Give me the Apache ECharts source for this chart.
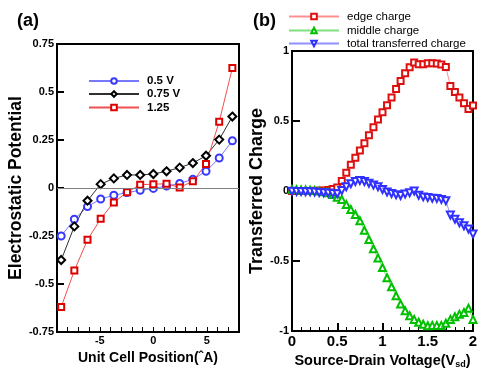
<!DOCTYPE html>
<html><head><meta charset="utf-8">
<script src="https://cdn.jsdelivr.net/npm/echarts@6/dist/echarts.min.js"></script>
<style>html,body{margin:0;padding:0;background:#fff}#c{width:491px;height:379px}</style>
</head><body><div id="c"></div>
<script>
// Panel (a): electrostatic potential vs unit cell position
const positions = [-8.61, -7.38, -6.15, -4.92, -3.69, -2.46, -1.23, 0, 1.23, 2.46, 3.69, 4.92, 6.15, 7.38];
const pot05 = [-0.25, -0.163, -0.097, -0.057, -0.038, -0.024, -0.012, -0.002, 0.01, 0.024, 0.045, 0.087, 0.156, 0.246];
const pot075 = [-0.375, -0.2, -0.066, 0.02, 0.05, 0.068, 0.068, 0.073, 0.087, 0.106, 0.13, 0.168, 0.252, 0.372];
const pot125 = [-0.62, -0.43, -0.27, -0.16, -0.075, -0.022, 0.017, 0.02, 0.022, 0.003, 0.035, 0.125, 0.345, 0.625];
const namesA = ['0.5 V', '0.75 V', '1.25'];
const xTickLabelsA = [-5, 0, 5];
const yTicksA = [-0.75, -0.5, -0.25, 0, 0.25, 0.5, 0.75];

// Panel (b): transferred charge vs source-drain voltage
const voltage = [0, 0.05, 0.1, 0.15, 0.2, 0.25, 0.3, 0.35, 0.4, 0.45, 0.5,
  0.55, 0.6, 0.65, 0.7, 0.75, 0.8, 0.85, 0.9, 0.95, 1.0,
  1.05, 1.1, 1.15, 1.2, 1.25, 1.3, 1.35, 1.4, 1.45, 1.5,
  1.55, 1.6, 1.65, 1.7, 1.75, 1.8, 1.85, 1.9, 1.95, 2.0];
const edgeCharge = [0, 0, 0, 0, 0, 0.001, 0.002, 0.004, 0.008, 0.015, 0.025,
  0.072, 0.13, 0.187, 0.237, 0.29, 0.341, 0.398, 0.455, 0.51, 0.563,
  0.613, 0.667, 0.729, 0.786, 0.841, 0.884, 0.917, 0.905, 0.905, 0.912,
  0.912, 0.91, 0.903, 0.886, 0.75, 0.708, 0.667, 0.627, 0.586, 0.61];
const middleCharge = [0.01, 0.009, 0.008, 0.007, 0.005, 0.003, 0.0, -0.005, -0.012, -0.025, -0.045,
  -0.06, -0.096, -0.132, -0.168, -0.213, -0.28, -0.346, -0.413, -0.479, -0.546,
  -0.62, -0.684, -0.748, -0.807, -0.855, -0.891, -0.917, -0.938, -0.952, -0.962,
  -0.96, -0.96, -0.96, -0.945, -0.917, -0.898, -0.881, -0.867, -0.838, -0.917];
const totalCharge = [-0.002, -0.003, -0.004, -0.005, -0.006, -0.008, -0.01, -0.012, -0.014, -0.017, -0.02,
  0.003, 0.03, 0.052, 0.068, 0.075, 0.067, 0.055, 0.042, 0.03, 0.011,
  -0.008, -0.018, -0.027, -0.032, -0.022, -0.012, 0.0, -0.03, -0.042, -0.046,
  -0.051, -0.053, -0.06, -0.07, -0.172, -0.201, -0.227, -0.248, -0.272, -0.308];
const namesB = ['edge charge', 'middle charge', 'total transferred charge'];

const FONT = "'Liberation Sans', Arial, sans-serif";
const zip = (xs, ys) => xs.map((x, i) => [x, ys[i]]);
const fmtA = v => (xTickLabelsA.indexOf(Math.round(v)) >= 0 && Math.abs(v - Math.round(v)) < 1e-6) ? String(Math.round(v)) : '';

const chart = echarts.init(document.getElementById('c'), null, {renderer: 'canvas'});

function legendItem(name, left, top, bold) {
  return {
    data: [name], left: left, top: top, orient: 'vertical',
    itemWidth: 50, itemHeight: 7, itemGap: 0, padding: 0,
    textStyle: {fontFamily: FONT, fontSize: 11.5, fontWeight: bold ? 'bold' : 'normal', color: '#000', padding: [0, 0, 0, 3]},
    selectedMode: false
  };
}

const option = {
  animation: false,
  backgroundColor: '#fff',
  textStyle: {fontFamily: FONT},
  graphic: [
    {type: 'text', left: 17, top: 12, style: {text: '(a)', font: 'bold 18px ' + FONT, fill: '#000'}},
    {type: 'text', left: 253, top: 12, style: {text: '(b)', font: 'bold 18px ' + FONT, fill: '#000'}}
  ],
  legend: [
    legendItem(namesA[0], 88, 75, true),
    legendItem(namesA[1], 88, 88, true),
    legendItem(namesA[2], 88, 101.5, true),
    legendItem(namesB[0], 288, 10.5, false),
    legendItem(namesB[1], 288, 24.5, false),
    legendItem(namesB[2], 288, 37.5, false)
  ],
  grid: [
    {left: 57, top: 44, width: 182, height: 288, show: true, borderColor: '#000', borderWidth: 2, backgroundColor: 'transparent'},
    {left: 292, top: 51, width: 181, height: 280, show: true, borderColor: '#000', borderWidth: 2, backgroundColor: 'transparent'}
  ],
  xAxis: [
    {type: 'value', gridIndex: 0, min: -9, max: 8, interval: 1, position: 'bottom',
      name: 'Unit Cell Position(\u02C6A)', nameLocation: 'middle', nameGap: 16,
      nameTextStyle: {fontFamily: FONT, fontSize: 14, fontWeight: 'bold', color: '#000'},
      axisLine: {onZero: false, lineStyle: {color: '#000', width: 2}},
      axisTick: {inside: true, length: 5, lineStyle: {color: '#000', width: 1}},
      axisLabel: {formatter: fmtA, fontFamily: FONT, fontSize: 11, fontWeight: 'bold', color: '#000', margin: 3, showMinLabel: true, showMaxLabel: true},
      splitLine: {show: false}},
    {type: 'value', gridIndex: 1, min: 0, max: 2, interval: 0.5, position: 'bottom',
      name: '{n|Source-Drain Voltage(V}{s|sd}{n|)}', nameLocation: 'middle', nameGap: 19,
      nameTextStyle: {rich: {
        n: {fontFamily: FONT, fontSize: 14.5, fontWeight: 'bold', color: '#000'},
        s: {fontFamily: FONT, fontSize: 9, fontWeight: 'bold', color: '#000', verticalAlign: 'bottom', padding: [6, 0, 0, 0]}}},
      axisLine: {onZero: false, lineStyle: {color: '#000', width: 2}},
      axisTick: {inside: true, length: 8, lineStyle: {color: '#000', width: 2}},
      axisLabel: {fontFamily: FONT, fontSize: 15, fontWeight: 'bold', color: '#000', margin: 3},
      splitLine: {show: false}},
    {type: 'value', gridIndex: 1, min: 0, max: 2, interval: 0.1, position: 'bottom', offset: 0,
      axisLine: {show: false, onZero: false},
      axisTick: {inside: true, length: 4, lineStyle: {color: '#000', width: 1}},
      axisLabel: {show: false}, splitLine: {show: false}}
  ],
  yAxis: [
    {type: 'value', gridIndex: 0, min: -0.75, max: 0.75, interval: 0.25,
      name: 'Electrostatic Potential', nameLocation: 'middle', nameGap: 31, nameRotate: 90,
      nameTextStyle: {fontFamily: FONT, fontSize: 17.5, fontWeight: 'bold', color: '#000'},
      axisLine: {onZero: false, lineStyle: {color: '#000', width: 2}},
      axisTick: {inside: true, length: 7, lineStyle: {color: '#000', width: 2}},
      axisLabel: {fontFamily: FONT, fontSize: 11, fontWeight: 'bold', color: '#000', margin: 3},
      splitLine: {show: false}},
    {type: 'value', gridIndex: 1, min: -1, max: 1, interval: 0.5,
      name: 'Transferred Charge', nameLocation: 'middle', nameGap: 21, nameRotate: 90,
      nameTextStyle: {fontFamily: FONT, fontSize: 18, fontWeight: 'bold', color: '#000'},
      axisLine: {onZero: false, lineStyle: {color: '#000', width: 2}},
      axisTick: {inside: true, length: 8, lineStyle: {color: '#000', width: 2}},
      axisLabel: {fontFamily: FONT, fontSize: 11, fontWeight: 'bold', color: '#000', margin: 3},
      splitLine: {show: false}}
  ],
  series: [
    {name: namesA[0], type: 'line', xAxisIndex: 0, yAxisIndex: 0, data: zip(positions, pot05),
      symbol: 'emptyCircle', symbolSize: 7,
      lineStyle: {color: '#7878ff', width: 1}, itemStyle: {color: '#3838ff', borderWidth: 2},
      markLine: {silent: true, symbol: 'none', label: {show: false},
        lineStyle: {color: '#808080', width: 1, type: 'solid'}, data: [{yAxis: 0}]}},
    {name: namesA[1], type: 'line', xAxisIndex: 0, yAxisIndex: 0, data: zip(positions, pot075),
      symbol: 'emptyDiamond', symbolSize: 8,
      lineStyle: {color: '#303030', width: 1}, itemStyle: {color: '#000', borderWidth: 2}},
    {name: namesA[2], type: 'line', xAxisIndex: 0, yAxisIndex: 0, data: zip(positions, pot125),
      symbol: 'emptyRect', symbolSize: 6,
      lineStyle: {color: '#ee5050', width: 1}, itemStyle: {color: '#dd0000', borderWidth: 2}},
    {name: namesB[0], type: 'line', xAxisIndex: 1, yAxisIndex: 1, data: zip(voltage, edgeCharge),
      symbol: 'emptyRect', symbolSize: 6,
      lineStyle: {color: '#ff9090', width: 1}, itemStyle: {color: '#dd1010', borderWidth: 2}},
    {name: namesB[1], type: 'line', xAxisIndex: 1, yAxisIndex: 1, data: zip(voltage, middleCharge),
      symbol: 'emptyTriangle', symbolSize: 7,
      lineStyle: {color: '#80e080', width: 1}, itemStyle: {color: '#00c000', borderWidth: 1.8}},
    {name: namesB[2], type: 'line', xAxisIndex: 1, yAxisIndex: 1, data: zip(voltage, totalCharge),
      symbol: 'emptyTriangle', symbolSize: 7, symbolRotate: 180,
      lineStyle: {color: '#9090ff', width: 1}, itemStyle: {color: '#3030ff', borderWidth: 1.8}}
  ]
};
chart.setOption(option);
</script></body></html>
